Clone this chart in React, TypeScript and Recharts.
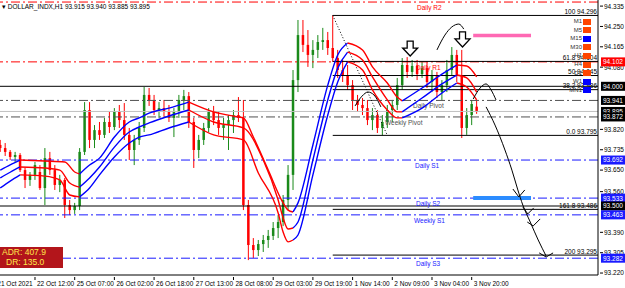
import React from 'react';
import { ComposedChart, Bar, Line, Scatter, XAxis, YAxis, ReferenceLine } from 'recharts';

const FONT = '"Liberation Sans", Arial, sans-serif';

// one candle per slot, 97 candles, then empty space to the right (chart shift)
const opens = [93.755, 93.742, 93.726, 93.705, 93.713, 93.650, 93.609, 93.630, 93.642, 93.575, 93.700, 93.650, 93.588, 93.609, 93.504, 93.483, 93.500, 93.726, 93.901, 93.776, 93.817, 93.797, 93.851, 93.830, 93.893, 93.859, 93.797, 93.734, 93.776, 93.826, 93.964, 93.943, 93.901, 93.909, 93.893, 93.868, 93.893, 93.943, 93.959, 93.851, 93.734, 93.776, 93.826, 93.893, 93.859, 93.826, 93.838, 93.859, 93.880, 93.868, 93.504, 93.337, 93.316, 93.341, 93.358, 93.375, 93.408, 93.433, 93.525, 93.630, 94.026, 94.214, 94.173, 94.131, 94.152, 94.185, 94.193, 94.160, 94.118, 94.068, 94.047, 94.005, 93.943, 93.922, 93.909, 93.859, 93.880, 93.826, 93.851, 93.901, 93.922, 94.005, 94.089, 94.060, 94.085, 94.051, 94.076, 94.018, 94.043, 93.976, 94.005, 94.068, 94.131, 94.047, 93.826, 93.880, 93.915];
const highs = [93.776, 93.763, 93.734, 93.726, 93.721, 93.659, 93.642, 93.684, 93.671, 93.742, 93.726, 93.671, 93.630, 93.617, 93.525, 93.513, 93.742, 93.934, 93.934, 93.838, 93.851, 93.868, 93.893, 93.909, 93.922, 93.930, 93.826, 93.797, 93.851, 93.997, 93.993, 93.964, 93.934, 93.943, 93.922, 93.909, 93.964, 93.985, 93.976, 93.868, 93.797, 93.847, 93.909, 93.918, 93.893, 93.868, 93.880, 93.901, 93.955, 93.943, 93.525, 93.366, 93.358, 93.379, 93.400, 93.433, 93.462, 93.546, 93.671, 94.068, 94.277, 94.277, 94.235, 94.193, 94.214, 94.244, 94.227, 94.296, 94.152, 94.110, 94.089, 94.026, 93.964, 93.951, 93.943, 93.909, 93.901, 93.880, 93.922, 93.943, 94.035, 94.118, 94.122, 94.110, 94.110, 94.102, 94.102, 94.068, 94.060, 94.026, 94.110, 94.164, 94.152, 94.152, 93.909, 93.943, 93.940];
const lows = [93.726, 93.709, 93.692, 93.684, 93.642, 93.575, 93.584, 93.609, 93.567, 93.504, 93.630, 93.567, 93.558, 93.450, 93.462, 93.467, 93.483, 93.713, 93.742, 93.742, 93.776, 93.784, 93.805, 93.817, 93.826, 93.776, 93.692, 93.671, 93.755, 93.809, 93.918, 93.880, 93.868, 93.872, 93.851, 93.788, 93.868, 93.901, 93.826, 93.659, 93.700, 93.755, 93.809, 93.838, 93.797, 93.776, 93.734, 93.805, 93.851, 93.483, 93.274, 93.283, 93.291, 93.308, 93.325, 93.358, 93.366, 93.416, 93.483, 93.567, 93.976, 94.143, 94.081, 94.076, 94.118, 94.152, 94.131, 94.102, 94.035, 94.018, 93.985, 93.901, 93.893, 93.880, 93.838, 93.817, 93.805, 93.795, 93.826, 93.851, 93.901, 93.985, 94.035, 94.039, 94.026, 94.035, 93.993, 93.976, 93.951, 93.943, 93.976, 94.047, 94.018, 93.784, 93.797, 93.838, 93.885];
const closes = [93.742, 93.726, 93.705, 93.713, 93.650, 93.609, 93.630, 93.671, 93.575, 93.700, 93.650, 93.588, 93.609, 93.504, 93.483, 93.500, 93.726, 93.901, 93.776, 93.817, 93.797, 93.851, 93.830, 93.893, 93.859, 93.797, 93.734, 93.776, 93.826, 93.964, 93.943, 93.901, 93.909, 93.893, 93.868, 93.893, 93.943, 93.959, 93.851, 93.734, 93.776, 93.826, 93.893, 93.859, 93.826, 93.838, 93.859, 93.880, 93.868, 93.504, 93.337, 93.316, 93.341, 93.358, 93.375, 93.408, 93.433, 93.525, 93.630, 94.026, 94.214, 94.173, 94.131, 94.152, 94.185, 94.193, 94.160, 94.118, 94.068, 94.047, 94.005, 93.943, 93.922, 93.909, 93.859, 93.880, 93.826, 93.851, 93.901, 93.922, 94.005, 94.089, 94.060, 94.085, 94.051, 94.076, 94.018, 94.043, 93.976, 94.005, 94.068, 94.131, 94.047, 93.826, 93.880, 93.926, 93.895];
const SLOTS = 120;

// moving-average channel: [slot, price]
const maTop = [[0, 93.650], [2, 93.672], [4, 93.692], [9, 93.688], [13, 93.684], [15, 93.642], [16, 93.634], [18, 93.671], [20, 93.700], [23, 93.788], [26, 93.851], [28, 93.868], [30, 93.888], [34, 93.909], [38, 93.934], [43, 93.893], [48, 93.872], [49, 93.868], [51, 93.788], [54, 93.650], [57, 93.513], [58, 93.483], [59, 93.475], [60, 93.513], [63, 93.755], [66, 94.005], [68, 94.131], [70, 94.181], [73, 94.152], [75, 94.081], [78, 94.014], [80, 93.955], [81, 93.939], [85, 93.993], [89, 94.051], [92, 94.089], [94, 94.085], [96, 94.039]];
const maMid = [[0, 93.617], [2, 93.641], [4, 93.663], [9, 93.659], [12, 93.650], [14, 93.596], [16, 93.579], [18, 93.617], [20, 93.663], [23, 93.746], [26, 93.809], [28, 93.830], [30, 93.847], [34, 93.876], [38, 93.901], [43, 93.851], [49, 93.826], [53, 93.692], [56, 93.525], [57, 93.450], [58, 93.404], [59, 93.408], [60, 93.433], [63, 93.692], [66, 93.943], [68, 94.076], [70, 94.143], [73, 94.110], [75, 94.039], [78, 93.943], [80, 93.893], [81, 93.893], [85, 93.951], [89, 94.010], [92, 94.047], [94, 94.035], [96, 93.976]];
const maBot = [[0, 93.575], [2, 93.604], [4, 93.630], [9, 93.625], [12, 93.609], [14, 93.546], [16, 93.538], [18, 93.575], [20, 93.630], [23, 93.705], [26, 93.763], [28, 93.788], [30, 93.797], [34, 93.826], [38, 93.851], [43, 93.797], [49, 93.776], [52, 93.638], [56, 93.471], [57, 93.391], [58, 93.350], [59, 93.358], [60, 93.379], [63, 93.630], [66, 93.880], [68, 94.018], [70, 94.102], [73, 94.068], [75, 93.985], [78, 93.901], [80, 93.868], [81, 93.868], [85, 93.909], [89, 93.972], [92, 94.014], [94, 93.997], [96, 93.943]];
const trendSegments = [
  { from: 0, to: 4, up: true }, { from: 4, to: 16, up: false }, { from: 16, to: 38, up: true }, { from: 38, to: 59, up: false },
  { from: 59, to: 70, up: true }, { from: 70, to: 81, up: false }, { from: 81, to: 92, up: true }, { from: 92, to: 96, up: false },
];

const timeTicks = [7, 15, 23, 31, 39, 47, 55, 63, 71, 79, 87, 95];
const timeLabels = ['22 Oct 12:00', '25 Oct 07:00', '26 Oct 02:00', '26 Oct 18:00', '27 Oct 13:00', '28 Oct 08:00', '29 Oct 03:00', '29 Oct 19:00', '1 Nov 14:00', '2 Nov 09:00', '3 Nov 04:00', '3 Nov 20:00'];
const firstTimeLabel = '21 Oct 2021';

const priceTicks = [94.335, 94.25, 94.165, 94.08, 93.82, 93.735, 93.65, 93.56, 93.39, 93.305, 93.22];
const boxPrices = [94.102, 94.0, 93.941, 93.895, 93.872, 93.692, 93.533, 93.5, 93.463, 93.282];
const boxColors = ['#ff0000', '#000000', '#000000', '#000000', '#000000', '#1a1aff', '#1a1aff', '#000000', '#1a1aff', '#1a1aff'];

const pivotNames = ['Daily R2', 'Daily R1', 'Daily Pivot', 'Weekly Pivot', 'Daily S1', 'Daily S2', 'Weekly S1', 'Daily S3'];
const pivotLevels = [94.352, 94.102, 93.941, 93.872, 93.692, 93.533, 93.463, 93.282];
const pivotColors = ['#ff0000', '#ff0000', '#505050', '#505050', '#1a1aff', '#1a1aff', '#1a1aff', '#1a1aff'];
const pivotLabelX = [417, 416, 413, 385, 415, 416, 414, 416];

const fibRatios = ['100', '61.8', '50', '38.2', '0.0', '161.8', '200'];
const fibLevels = [94.296, 94.104, 94.045, 93.986, 93.795, 93.486, 93.295];
const fibStart = 67;
const roundLevels = [94.0, 93.5];
const bidPrice = 93.895;

const zoneStart = 95.3;
const zoneEnd = 106.95;
const pinkZone = 94.212;
const blueZone = 93.533;

// hand-drawn marks: [slot, price]
const sketchUp = [[88.0, 94.152], [89.6, 94.214], [91.0, 94.248], [92.4, 94.260], [93.4, 94.239]];
const sketchBumpA = [[71.5, 93.918], [72.9, 93.959], [74.1, 93.976], [75.3, 93.964], [76.7, 93.914]];
const sketchBumpB = [[95.3, 93.947], [96.7, 93.993], [97.9, 94.010], [98.9, 93.985], [99.9, 93.943]];
const sketchDown = [[97.9, 93.914], [99.7, 93.838], [101.7, 93.734], [103.1, 93.650], [104.3, 93.567], [105.3, 93.504], [106.8, 93.433], [108.4, 93.358], [110.0, 93.291]];
const sketchHeads = [
  [[103.3, 93.571], [104.5, 93.538], [105.7, 93.567]],
  [[105.3, 93.496], [106.3, 93.467], [107.5, 93.492]],
  [[106.2, 93.433], [107.4, 93.417], [108.8, 93.446]],
  [[108.6, 93.304], [110.0, 93.287], [111.4, 93.304]],
];
const downArrows = [[82.6, 94.189], [93.15, 94.227]];

const frames = ['M1', 'M5', 'M15', 'M30', 'H1', 'H4', 'D1', 'W1', 'MN1'];
const frameColors = ['#ff4500', '#ff4500', '#0000ff', '#ff4500', '#ff4500', '#ff4500', '#ff4500', '#0000ff', '#0000ff'];

const segKey = (s: number, line: string) => `s${s}${line}`;

const rows: any[] = [];
for (let i = 0; i <= SLOTS; i++) {
  const r: any = { i };
  if (i < opens.length) {
    r.o = opens[i]; r.h = highs[i]; r.l = lows[i]; r.c = closes[i];
    r.hl = [lows[i], highs[i]];
  }
  rows.push(r);
}
[['t', maTop], ['m', maMid], ['b', maBot]].forEach(([line, knots]: any) => {
  knots.forEach(([k, v]: number[]) => {
    trendSegments.forEach((s, si) => {
      if (k >= s.from && k <= s.to) rows[k][segKey(si, line)] = v;
    });
  });
});

const toPts = (arr: number[][]) => arr.map(([i, v]) => ({ i, v }));

const Candle = (props: any) => {
  const { x, y, width, height, payload } = props;
  if (!payload || payload.o == null) return <g />;
  const top = Math.min(y, y + height);
  const bot = Math.max(y, y + height);
  const span = payload.h - payload.l || 1;
  const py = (v: number) => top + ((payload.h - v) / span) * (bot - top);
  const up = payload.c >= payload.o;
  const color = up ? '#1a8a1a' : '#ff0000';
  const cx = x + width / 2;
  const bt = py(Math.max(payload.o, payload.c));
  const bb = py(Math.min(payload.o, payload.c));
  return (
    <g>
      <line x1={cx} x2={cx} y1={top} y2={bot} stroke={color} strokeWidth={1} />
      <rect x={cx - 1.25} y={bt} width={2.5} height={Math.max(1, bb - bt)} fill={color} />
    </g>
  );
};

const HollowArrow = ({ cx, cy }: any) => {
  const pts = [[-3, 0], [3, 0], [3, 7], [7.5, 7], [0, 15], [-7.5, 7], [-3, 7]]
    .map(([dx, dy]) => `${cx + dx},${cy + dy}`).join(' ');
  return <polygon points={pts} fill="#fff" stroke="#000" strokeWidth={1.3} />;
};

const PriceTick = ({ x, y, payload }: any) => {
  const v = payload.value;
  const bi = boxPrices.findIndex((b) => Math.abs(b - v) < 1e-6);
  if (bi >= 0) {
    return (
      <g>
        <rect x={x + 1} y={y - 4.5} width={26} height={9} fill={boxColors[bi]} />
        <text x={x + 3} y={y + 2.4} fill="#fff" fontSize={6.5} fontFamily={FONT}>{v.toFixed(3)}</text>
      </g>
    );
  }
  return (
    <g>
      <line x1={x} x2={x + 3} y1={y} y2={y} stroke="#000" />
      <text x={x + 4} y={y + 2.4} fill="#000" fontSize={6.5} fontFamily={FONT}>{v.toFixed(3)}</text>
    </g>
  );
};

const TimeTick = ({ x, y, payload }: any) => {
  const idx = timeTicks.indexOf(payload.value);
  const step = x / (payload.value + 0.05) * 8;
  return (
    <g fontSize={6.5} fontFamily={FONT} fill="#000">
      <line x1={x} x2={x} y1={y} y2={y + 3} stroke="#000" />
      <text x={x + 2} y={y + 9}>{timeLabels[idx]}</text>
      {idx === 0 && <text x={x - step + 2} y={y + 9}>{firstTimeLabel}</text>}
    </g>
  );
};

const LineTag = ({ viewBox, text, px, color }: any) => {
  if (!viewBox) return null;
  return <text x={viewBox.x + px} y={viewBox.y + 8} fill={color} fontSize={6.5} fontFamily={FONT}>{text}</text>;
};

const FibTag = ({ viewBox, text }: any) => {
  if (!viewBox) return null;
  return <text x={viewBox.x + viewBox.width - 1} y={viewBox.y - 1.5} textAnchor="end" fill="#000" fontSize={6.5} fontFamily={FONT}>{text}</text>;
};

const DASHDOT = '9 3 2 3';

export default function App() {
  return (
    <div style={{ position: 'absolute', left: 0, top: 0, width: 625, height: 288, background: '#fff', overflow: 'hidden' }}>
      <ComposedChart width={625} height={288} data={rows} margin={{ top: 0, right: 0, bottom: 0, left: 0 }}>
        <XAxis dataKey="i" type="number" domain={[-0.05, 120.45]} allowDataOverflow ticks={timeTicks} interval={0}
          tick={<TimeTick />} tickLine={false} tickSize={0} axisLine={{ stroke: '#000' }} height={13} />
        <YAxis orientation="right" type="number" domain={[93.2118, 94.3605]} allowDataOverflow width={27}
          ticks={[...priceTicks, ...boxPrices]} interval={0} tick={<PriceTick />} tickLine={false} tickSize={0}
          axisLine={{ stroke: '#000' }} />

        <ReferenceLine y={bidPrice} stroke="#c0c0c0" strokeWidth={1} />
        {roundLevels.map((v) => <ReferenceLine key={v} y={v} stroke="#000" strokeWidth={1} />)}
        {pivotLevels.map((v, k) => (
          <ReferenceLine key={pivotNames[k]} y={v} stroke={pivotColors[k]} strokeDasharray={DASHDOT}
            label={<LineTag text={pivotNames[k]} px={pivotLabelX[k]} color={pivotColors[k]} />} />
        ))}
        {fibLevels.map((v, k) => (
          <ReferenceLine key={fibRatios[k]} segment={[{ x: fibStart, y: v }, { x: 120.45, y: v }]} stroke="#000"
            label={<FibTag text={`${fibRatios[k]}  ${v.toFixed(3)}`} />} />
        ))}
        <ReferenceLine segment={[{ x: fibStart, y: fibLevels[0] }, { x: 78, y: fibLevels[4] }]} stroke="#000" strokeDasharray="1 2" />
        <ReferenceLine segment={[{ x: zoneStart, y: pinkZone }, { x: zoneEnd, y: pinkZone }]} stroke="#ff69b4" strokeWidth={3.5} />
        <ReferenceLine segment={[{ x: zoneStart, y: blueZone }, { x: zoneEnd, y: blueZone }]} stroke="#2b8cff" strokeWidth={4} />

        {trendSegments.map((s, si) =>
          ['t', 'm', 'b'].map((line) => (
            <Line key={segKey(si, line)} dataKey={segKey(si, line)} type="monotone" stroke={s.up ? '#0000ff' : '#ff0000'}
              strokeWidth={1.4} dot={false} activeDot={false} connectNulls isAnimationActive={false} />
          ))
        )}

        <Bar dataKey="hl" barSize={3} shape={<Candle />} isAnimationActive={false} />

        {[sketchUp, sketchBumpA, sketchBumpB, sketchDown].map((s, k) => (
          <Scatter key={`sk${k}`} data={toPts(s)} dataKey="v" line={{ stroke: '#000', strokeWidth: 1 }}
            lineJointType="monotoneX" shape={() => <g />} isAnimationActive={false} />
        ))}
        {sketchHeads.map((s, k) => (
          <Scatter key={`hd${k}`} data={toPts(s)} dataKey="v" line={{ stroke: '#000', strokeWidth: 1 }}
            lineJointType="linear" shape={() => <g />} isAnimationActive={false} />
        ))}
        <Scatter data={toPts(downArrows)} dataKey="v" shape={<HollowArrow />} isAnimationActive={false} />
      </ComposedChart>

      <div style={{ position: 'absolute', left: 2, top: 3, fontFamily: FONT, fontSize: 6.5, color: '#000', whiteSpace: 'nowrap' }}>
        ▾ DOLLAR_INDX,H1  93.915 93.940 93.885 93.895
      </div>

      {frames.map((f, k) => (
        <div key={f} style={{ position: 'absolute', left: 560, top: 18 + k * 8.6, width: 32, height: 7, fontFamily: FONT, fontSize: 6, color: '#333' }}>
          <span style={{ position: 'absolute', right: 10, top: 0 }}>{f}</span>
          <span style={{ position: 'absolute', right: 1, top: 0.5, width: 8, height: 6, background: frameColors[k] }} />
        </div>
      ))}

      <div style={{ position: 'absolute', left: 0, top: 247, width: 63, height: 21, background: '#b3151b', color: '#ffe94a', fontFamily: FONT, fontSize: 8.5, lineHeight: '10px' }}>
        <div style={{ paddingLeft: 2 }}>ADR: 407.9</div>
        <div style={{ paddingLeft: 6 }}>DR: 135.0</div>
      </div>
    </div>
  );
}
